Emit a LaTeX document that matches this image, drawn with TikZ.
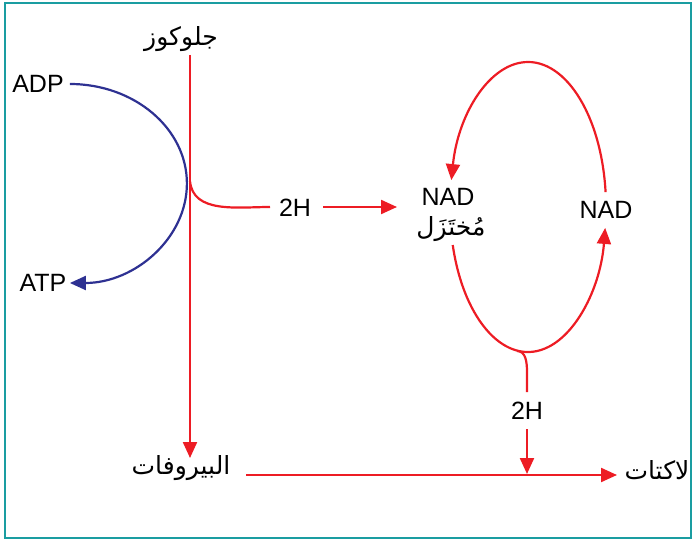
\documentclass[tikz,border=0pt]{standalone}
\usepackage{fontspec}
\setmainfont{Liberation Sans}
\newfontfamily\arabicfont[Script=Arabic]{DejaVu Sans}
\TeXXeTstate=1
\usetikzlibrary{arrows.meta}
\definecolor{myred}{HTML}{ED1C24}
\definecolor{myblue}{HTML}{2E3192}
\definecolor{myteal}{HTML}{1A9DA1}
\begin{document}
\begin{tikzpicture}[x=1pt,y=1pt,
  lbl/.style={inner sep=0pt,font=\fontsize{25}{30}\selectfont},
  ar/.style={inner sep=0pt,font=\fontsize{25}{30}\selectfont\arabicfont},
  redln/.style={draw=myred,line width=2.2pt},
  redar/.style={redln,-{Triangle[length=16pt,width=14pt]}},
  bluear/.style={draw=myblue,line width=2.2pt,-{Triangle[length=16pt,width=14pt]}}]
\useasboundingbox (0,0) rectangle (694,-540);
\draw[myteal,line width=2.5pt] (5,-3) rectangle (691,-538);

% labels
\node[ar] (glu) at (181,-39) {\beginR جلوكوز\endR};
\node[lbl] (adp) at (38,-84) {ADP};
\node[lbl] (atp) at (43,-283) {ATP};
\node[lbl] (h1) at (295,-208) {2H};
\node[lbl] (nadr) at (448,-197) {NAD};
\node[ar] (red) at (451,-229) {\beginR مُختَزَل\endR};
\node[lbl] (nad) at (606,-210) {NAD};
\node[lbl] (h2) at (527,-411) {2H};
\node[ar] (pyr) at (181,-468) {\beginR البيروفات\endR};
\node[ar] (lac) at (657,-470) {\beginR لاكتات\endR};

% coordinates
\coordinate (gtop) at (190,-55);
\coordinate (gbot) at (190,-458);
\coordinate (split) at (190,-181);
\coordinate (h1in) at (270,-207);
\coordinate (h1out) at (323,-207);
\coordinate (nadin) at (397,-207);
\coordinate (hstart) at (246,-475);
\coordinate (hend) at (617,-475);
\coordinate (ebot) at (517,-351);
\coordinate (bend) at (527,-372);
\coordinate (h2in) at (527,-392);
\coordinate (h2out) at (527,-429);
\coordinate (h2end) at (527,-474);

% blue ADP -> ATP
\draw[bluear] (adp.east) ++(6,0) arc[start angle=90,end angle=-90,x radius=117,y radius=99.5];

% red glucose -> pyruvate
\draw[redar] (gtop) -- (gbot);
\draw[redln] (split) to[out=-85,in=180] (h1in);
\draw[redar] (h1out) -- (nadin);

% cycle
\draw[redar] (528,-207) ++(5.9:78 and 145) arc[start angle=5.9,end angle=169.3,x radius=78,y radius=145];
\draw[redar] (528,-207) ++(195.2:78 and 145) arc[start angle=195.2,end angle=351.7,x radius=78,y radius=145];
\draw[redln] (ebot) to[out=0,in=90] (bend) -- (h2in);
\draw[redar] (h2out) -- (h2end);

% pyruvate -> lactate
\draw[redar] (hstart) -- (hend);
\end{tikzpicture}
\end{document}
